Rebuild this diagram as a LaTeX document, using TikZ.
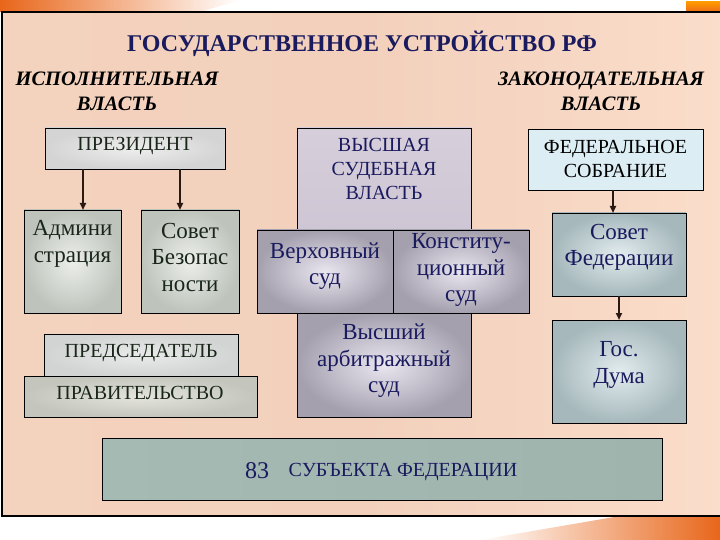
\documentclass[tikz,border=0pt]{standalone}
\usepackage{fontspec}
\setmainfont{Liberation Serif}
\usetikzlibrary{arrows.meta}
\definecolor{navy}{HTML}{1A1A5E}
\definecolor{darkt}{HTML}{1A261A}
\definecolor{arrc}{HTML}{2A1812}
\definecolor{orng}{HTML}{E8661A}
\definecolor{pL}{HTML}{F3D2BE}
\definecolor{pM}{HTML}{F2D0BC}
\definecolor{pR}{HTML}{FADDCA}
\begin{document}
\begin{tikzpicture}[x=1pt,y=-1pt,
  box/.style={draw=black, line width=0.9pt, inner sep=0pt, outer sep=0pt},
  advbox/.style={box, inner color={rgb,255:red,236;green,238;blue,234}, outer color={rgb,255:red,190;green,196;blue,188}},
  courtbox/.style={box, inner color={rgb,255:red,234;green,230;blue,240}, outer color={rgb,255:red,164;green,160;blue,174}},
  fedbox/.style={box, inner color={rgb,255:red,226;green,236;blue,238}, outer color={rgb,255:red,166;green,184;blue,188}},
  arr/.style={draw=arrc, line width=1.8pt, -{Triangle[length=7pt,width=6pt]}},
  txt/.style={align=center, inner sep=0pt},
  big/.style={txt, font=\fontsize{23}{26.5}\selectfont},
  caps/.style={txt, font=\fontsize{20}{24}\selectfont}
]
\useasboundingbox (0,0) rectangle (720,540);
\fill[white] (0,0) rectangle (720,540);
% orange swooshes
\shade[left color=orng, right color=white] (0,0) -- (240,0) -- (200,12) -- (0,12) -- cycle;
\shade[left color=white, right color=orng] (480,540) -- (620,516) -- (720,516) -- (720,540) -- cycle;
\shade[top color=orange!80!yellow, bottom color=orng] (686,2) rectangle (720,13);
% panel
\shade[left color=pL, right color=pR, middle color=pM, draw=black, line width=1.2pt] (2,12) rectangle (724,516);

% boxes
\node[box, minimum width=180pt, minimum height=41pt, inner color={rgb,255:red,238;green,238;blue,238}, outer color={rgb,255:red,212;green,212;blue,212}] (pres) at (135,148.5) {};
\node[advbox, minimum width=97pt, minimum height=103pt] (adm) at (72.5,261.5) {};
\node[advbox, minimum width=98pt, minimum height=103pt] (sb) at (190,261.5) {};
\node[box, minimum width=174pt, minimum height=102pt, top color={rgb,255:red,214;green,206;blue,218}, bottom color={rgb,255:red,206;green,198;blue,212}] (vsv) at (384,179) {};
\node[courtbox, minimum width=136pt, minimum height=83pt] (vs) at (325,271.5) {};
\node[courtbox, minimum width=136pt, minimum height=83pt] (ks) at (461,271.5) {};
\node[courtbox, minimum width=174pt, minimum height=104pt] (vas) at (384,365) {};
\node[box, minimum width=194pt, minimum height=42pt, inner color={rgb,255:red,234;green,236;blue,236}, outer color={rgb,255:red,210;green,212;blue,212}] (pred) at (141,355) {};
\node[box, minimum width=233pt, minimum height=41pt, inner color={rgb,255:red,228;green,228;blue,220}, outer color={rgb,255:red,196;green,198;blue,190}] (prav) at (140.5,396.5) {};
\node[box, minimum width=560pt, minimum height=62pt, left color={rgb,255:red,166;green,186;blue,180}, middle color={rgb,255:red,204;green,220;blue,216}, right color={rgb,255:red,160;green,180;blue,174}] (subj) at (382,469) {};
\node[box, minimum width=175pt, minimum height=61pt, fill={rgb,255:red,220;green,238;blue,244}] (fs) at (615.5,159.5) {};
\node[fedbox, minimum width=134pt, minimum height=83pt] (sf) at (619,254.5) {};
\node[fedbox, minimum width=134pt, minimum height=103pt] (gd) at (619,371.5) {};

% arrows
\draw[arr] ([xshift=-52pt]pres.south) -- ([xshift=10.5pt]adm.north);
\draw[arr] ([xshift=45pt]pres.south) -- ([xshift=-10pt]sb.north);
\draw[arr] ([xshift=-2.5pt]fs.south) -- ([xshift=-6pt]sf.north);
\draw[arr] (sf.south) -- (gd.north);

% texts
\node[txt, text=navy, font=\fontsize{24}{28}\selectfont\bfseries] (title) at (362,44) {ГОСУДАРСТВЕННОЕ УСТРОЙСТВО РФ};
\node[txt, font=\fontsize{20.5}{25}\selectfont\bfseries\itshape] (exec) at (117,91) {ИСПОЛНИТЕЛЬНАЯ\\ВЛАСТЬ};
\node[txt, font=\fontsize{20.5}{25}\selectfont\bfseries\itshape] (legis) at (601,91) {ЗАКОНОДАТЕЛЬНАЯ\\ВЛАСТЬ};

\node[caps, text=darkt] (tpres) at (135,146) {ПРЕЗИДЕНТ};
\node[big, text=darkt] (tadm) at (72.5,244) {Админи\\страция};
\node[big, text=darkt] (tsb) at (190,257) {Совет\\Безопас\\ности};
\node[caps, text=navy] (tvsv) at (384,169) {ВЫСШАЯ\\СУДЕБНАЯ\\ВЛАСТЬ};
\node[big, text=navy] (tvs) at (325,266) {Верховный\\суд};
\node[big, text=navy] (tks) at (461,270) {Конститу-\\ционный\\суд};
\node[big, text=navy] (tvas) at (384,361) {Высший\\арбитражный\\суд};
\node[caps, text=black] (tfs) at (615.5,159) {ФЕДЕРАЛЬНОЕ\\СОБРАНИЕ};
\node[big, text=navy] (tsf) at (619,247.5) {Совет\\Федерации};
\node[big, text=navy] (tgd) at (619,365) {Гос.\\Дума};
\node[caps, text=darkt] (tpred) at (141,353) {ПРЕДСЕДАТЕЛЬ};
\node[caps, text=darkt] (tprav) at (140,393) {ПРАВИТЕЛЬСТВО};
\node[txt, text=navy, font=\fontsize{24}{28}\selectfont] (t83) at (257,471) {83};
\node[caps, text=navy] (tsubj) at (403,472) {СУБЪЕКТА ФЕДЕРАЦИИ};
\end{tikzpicture}
\end{document}
